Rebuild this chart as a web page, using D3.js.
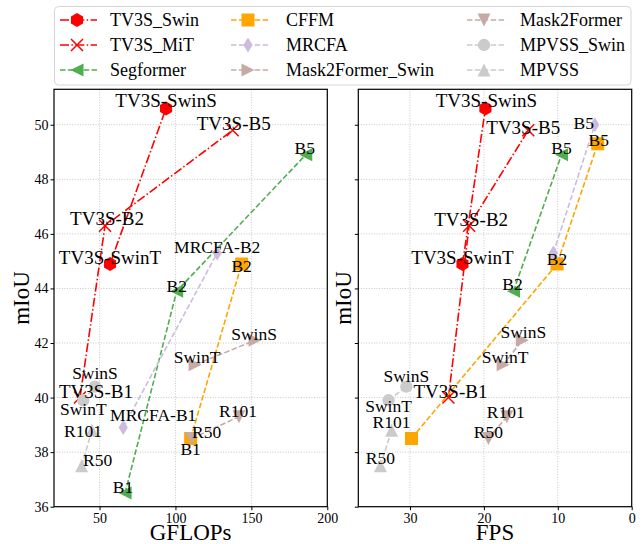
<!DOCTYPE html>
<html>
<head>
<meta charset="utf-8">
<script src="https://cdn.jsdelivr.net/npm/d3@7"></script>
<style>
  html, body { margin: 0; padding: 0; background: #fff; }
  svg { display: block; font-family: "Liberation Serif", "Times New Roman", serif; }
</style>
</head>
<body>
<div id="container"></div>
<script>
// model families, in legend order (column by column)
const seriesNames = ["TV3S_Swin", "TV3S_MiT", "Segformer", "CFFM", "MRCFA",
                     "Mask2Former_Swin", "Mask2Former", "MPVSS_Swin", "MPVSS"];

// per family: GFLOPs, FPS and mIoU of each model size (null = not plotted)
const gflops = [
  [56.9, 93.8],
  [37.1, 53.6, 137.7],
  [66.8, 100.8, 185.8],
  [110.0, 143.6, null],
  [65.6, 127.5, null],
  [112.9, 152.4],
  [110.7, 141.8],
  [39.3, 47.0],
  [38.2, 45.0]
];
const fps = [
  [22.9, 19.8],
  [24.8, 22.0, 14.0],
  [null, 16.0, 9.5],
  [29.8, 10.1, 4.6],
  [null, 10.6, 5.0],
  [17.4, 14.8],
  [19.4, 16.9],
  [32.9, 30.5],
  [34.0, 32.5]
];
const miou = [
  [44.9, 50.6],
  [40.0, 46.3, 49.8],
  [36.5, 43.9, 48.9],
  [38.5, 44.9, 49.3],
  [38.9, 45.3, 50.0],
  [41.2, 42.1],
  [38.5, 39.3],
  [39.9, 40.4],
  [37.5, 38.8]
];

// point labels shown in each panel
const gflopsLabels = [
  ["TV3S-SwinT", "TV3S-SwinS"],
  ["TV3S-B1", "TV3S-B2", "TV3S-B5"],
  ["B1", "B2", "B5"],
  ["B1", "B2", null],
  ["MRCFA-B1", "MRCFA-B2", null],
  ["SwinT", "SwinS"],
  ["R50", "R101"],
  ["SwinT", "SwinS"],
  ["R50", "R101"]
];
const fpsLabels = [
  ["TV3S-SwinT", "TV3S-SwinS"],
  ["TV3S-B1", "TV3S-B2", "TV3S-B5"],
  [null, "B2", "B5"],
  [null, "B2", "B5"],
  [null, null, "B5"],
  ["SwinT", "SwinS"],
  ["R50", "R101"],
  ["SwinT", "SwinS"],
  ["R50", "R101"]
];

const gflopsTicks = [50, 100, 150, 200];
const fpsTicks = [30, 20, 10, 0];
const miouTicks = [36, 38, 40, 42, 44, 46, 48, 50];

// label nudges in pixels (layout only)
const gflopsShift = [
  [[0, 0], [0, -1]],
  [[16, 0], [2, -1], [1, 0]],
  [[-2, 0], [0, 1], [-1, -1]],
  [[0, 17], [0, 8], [0, 0]],
  [[30, -7], [0, 0], [0, 0]],
  [[2, -2], [-1, 0]],
  [[15, 0], [-1, 0]],
  [[0, 15], [0, -8]],
  [[16, 0], [-9, 7]]
];
const fpsShift = [
  [[0, 0], [1, -1]],
  [[2, 0], [2, 0], [-5, 4]],
  [[0, 0], [-1, -1], [0, -1]],
  [[0, 0], [0, 1], [1, 2]],
  [[0, 0], [0, 0], [-11, 4]],
  [[2, -2], [1, -2]],
  [[0, 0], [-1, 1]],
  [[0, 12], [0, -5]],
  [[0, -2], [0, -2]]
];

// styles
const colors = ["#ff0000", "#ff0000", "#4fae4f", "#ffa500", "#cdbade",
                "#c6aaa4", "#c6aaa4", "#cbcbcb", "#cbcbcb"];
const markers = ["hexagon", "x", "triLeft", "square", "diamond",
                 "triRight", "triDown", "circle", "triUp"];
const dashes = ["9,2.4,1.5,2.4", "9,2.4,1.5,2.4", "5.5,2.4", "5.5,2.4", "5.5,2.4",
                "5.5,2.4", "5.5,2.4", "5.5,2.4", "5.5,2.4"];

const width = 642, height = 544;
const svg = d3.select("#container").append("svg")
  .attr("width", width).attr("height", height);

const y = d3.scaleLinear().domain([36, 51.3]).range([506.7, 89.3]);

function markerPath(kind) {
  if (kind == "hexagon") {
    const r = 7;
    return d3.range(6).map(function(k) {
      const a = Math.PI / 2 + k * Math.PI / 3;
      return (k ? "L" : "M") + (r * Math.cos(a)).toFixed(2) + "," + (r * Math.sin(a)).toFixed(2);
    }).join("") + "Z";
  }
  if (kind == "x") return "M-6,-6L6,6M-6,6L6,-6";
  if (kind == "square") return "M-6.5,-6.5H6.5V6.5H-6.5Z";
  if (kind == "diamond") return "M0,-7.5L4.6,0L0,7.5L-4.6,0Z";
  if (kind == "circle") return d3.symbol(d3.symbolCircle, 120)();
  if (kind == "triUp") return "M0,-6.5L6.5,6.5L-6.5,6.5Z";
  if (kind == "triDown") return "M0,6.5L6.5,-6.5L-6.5,-6.5Z";
  if (kind == "triLeft") return "M-6.5,0L6.5,-6.5L6.5,6.5Z";
  if (kind == "triRight") return "M6.5,0L-6.5,-6.5L-6.5,6.5Z";
}

function drawMarker(g, i, px, py) {
  const p = g.append("path")
    .attr("d", markerPath(markers[i]))
    .attr("transform", "translate(" + px + "," + py + ")");
  if (markers[i] == "x") {
    p.attr("fill", "none").attr("stroke", colors[i]).attr("stroke-width", 1.5);
  } else {
    p.attr("fill", colors[i]).attr("stroke", "none");
  }
}

const panels = [
  {x0: 54, x1: 327.3, domain: [20, 200], ticks: gflopsTicks, values: gflops,
   labels: gflopsLabels, shift: gflopsShift, title: "GFLOPs", yLabels: true, yTitleX: 29},
  {x0: 358.3, x1: 631.7, domain: [37, 0], ticks: fpsTicks, values: fps,
   labels: fpsLabels, shift: fpsShift, title: "FPS", yLabels: false, yTitleX: 351}
];

panels.forEach(function(pan, pi) {
  const x = d3.scaleLinear().domain(pan.domain).range([pan.x0, pan.x1]);
  const g = svg.append("g");

  g.append("clipPath").attr("id", "clip" + pi)
    .append("rect").attr("x", pan.x0).attr("y", 89.3)
    .attr("width", pan.x1 - pan.x0).attr("height", 506.7 - 89.3);

  // grid
  g.selectAll(".gx").data(pan.ticks).enter().append("line")
    .attr("x1", d => x(d)).attr("x2", d => x(d))
    .attr("y1", 89.3).attr("y2", 506.7)
    .attr("stroke", "#b8b8b8").attr("stroke-width", 0.8).attr("stroke-dasharray", "1,1.6");
  g.selectAll(".gy").data(miouTicks).enter().append("line")
    .attr("x1", pan.x0).attr("x2", pan.x1)
    .attr("y1", d => y(d)).attr("y2", d => y(d))
    .attr("stroke", "#b8b8b8").attr("stroke-width", 0.8).attr("stroke-dasharray", "1,1.6");

  // axes
  const xAxis = g.append("g").attr("transform", "translate(0,506.7)")
    .call(d3.axisBottom(x).tickValues(pan.ticks).tickSize(3.5).tickPadding(2.5).tickFormat(d3.format("d")));
  const yAxis = g.append("g").attr("transform", "translate(" + pan.x0 + ",0)")
    .call(d3.axisLeft(y).tickValues(miouTicks).tickSize(3.5).tickPadding(2)
      .tickFormat(pan.yLabels ? d3.format("d") : ""));
  [xAxis, yAxis].forEach(function(a) {
    a.select(".domain").remove();
    a.selectAll(".tick line").attr("stroke", "#000").attr("stroke-width", 1);
    a.selectAll(".tick text").attr("font-family", "Liberation Serif").attr("font-size", 14).attr("fill", "#000");
  });

  // series lines and markers
  const plot = g.append("g").attr("clip-path", "url(#clip" + pi + ")");
  seriesNames.forEach(function(name, i) {
    const pts = [];
    pan.values[i].forEach(function(v, j) {
      if (v != null) pts.push([x(v), y(miou[i][j])]);
    });
    plot.append("path")
      .attr("d", d3.line()(pts))
      .attr("fill", "none").attr("stroke", colors[i]).attr("stroke-width", 1.6)
      .attr("stroke-dasharray", dashes[i]);
    pts.forEach(function(p) { drawMarker(plot, i, p[0], p[1]); });
  });

  // point labels
  seriesNames.forEach(function(name, i) {
    pan.values[i].forEach(function(v, j) {
      const lab = pan.labels[i][j];
      if (v == null || lab == null) return;
      const s = pan.shift[i][j];
      g.append("text")
        .attr("x", x(v) + s[0]).attr("y", y(miou[i][j]) + s[1])
        .attr("text-anchor", "middle")
        .attr("font-size", lab.indexOf("TV3S") == 0 ? 19 : 17.5)
        .attr("fill", "#000")
        .text(lab);
    });
  });

  // frame
  g.append("rect").attr("x", pan.x0).attr("y", 89.3)
    .attr("width", pan.x1 - pan.x0).attr("height", 506.7 - 89.3)
    .attr("fill", "none").attr("stroke", "#000").attr("stroke-width", 1.2);

  // axis titles
  g.append("text").attr("x", (pan.x0 + pan.x1) / 2).attr("y", 540)
    .attr("text-anchor", "middle").attr("font-size", 23).text(pan.title);
  g.append("text").attr("transform", "translate(" + pan.yTitleX + ",298) rotate(-90)")
    .attr("text-anchor", "middle").attr("font-size", 23).text("mIoU");
});

// legend
const legend = svg.append("g");
legend.append("rect").attr("x", 54.5).attr("y", 6.5).attr("width", 576.5).attr("height", 78.5)
  .attr("rx", 4).attr("fill", "#fff").attr("fill-opacity", 0.8)
  .attr("stroke", "#d6d6d6").attr("stroke-width", 1);
const legendLineX = [60, 231, 467];
const legendTextX = [110, 286, 520];
const legendRowY = [20, 45, 70];
seriesNames.forEach(function(name, i) {
  const col = Math.floor(i / 3), row = i % 3;
  const lx = legendLineX[col], ly = legendRowY[row];
  legend.append("line").attr("x1", lx).attr("x2", lx + 37).attr("y1", ly).attr("y2", ly)
    .attr("stroke", colors[i]).attr("stroke-width", 1.6).attr("stroke-dasharray", dashes[i]);
  drawMarker(legend, i, lx + 17, ly);
  legend.append("text").attr("x", legendTextX[col]).attr("y", ly + 6)
    .attr("font-size", 18).attr("fill", "#000").text(name);
});
</script>
</body>
</html>
